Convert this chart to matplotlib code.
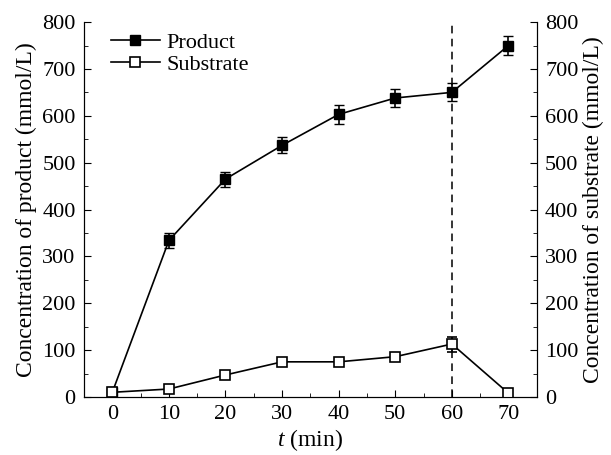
import numpy as np
import matplotlib.pyplot as plt

plt.rcParams['font.family'] = ['Liberation Serif', 'DejaVu Serif']
plt.rcParams['mathtext.fontset'] = 'custom'
plt.rcParams['mathtext.it'] = 'Liberation Serif:italic'
plt.rcParams['mathtext.rm'] = 'Liberation Serif'

# data
t = [0, 10, 20, 30, 40, 50, 60, 70]
product = [10, 334, 465, 537, 603, 638, 650, 750]
product_err = [4, 16, 16, 17, 20, 19, 19, 20]
substrate = [10, 17, 47, 75, 75, 86, 113, 8]
substrate_err = [3, 4, 6, 4, 4, 5, 16, 4]
switch_t = 60

fig = plt.figure(figsize=(6.11, 4.55), dpi=100)
ax = fig.add_axes([0.1375, 0.1275, 0.741, 0.824])
ax2 = ax.twinx()

eb1 = ax.errorbar(t, product, yerr=product_err, color='black', marker='s', ms=7.5,
                  mfc='black', mec='black', lw=1.2, capsize=3.5, elinewidth=1.2,
                  label='Product', zorder=3)
eb2 = ax.errorbar(t, substrate, yerr=substrate_err, color='black', marker='s', ms=7.5,
                  mfc='white', mec='black', mew=1.2, lw=1.2, capsize=3.5, elinewidth=1.2,
                  label='Substrate', zorder=3)

ax.axvline(switch_t, color='black', ls=(0, (5, 3.5)), lw=1.1)

ax.set_xlim(-5, 75)
ax.set_ylim(0, 800)
ax2.set_ylim(0, 800)
ax.set_xticks(range(0, 71, 10))
ax.set_xticks(range(-5, 76, 5), minor=True)
ax.set_yticks(range(0, 801, 100))
ax.set_yticks(range(0, 801, 50), minor=True)
ax2.set_yticks(range(0, 801, 100))
ax2.set_yticks(range(0, 801, 50), minor=True)

for a in (ax, ax2):
    a.spines['top'].set_visible(False)
    a.tick_params(which='both', direction='in', labelsize=16, top=False, pad=6)
    a.tick_params(which='major', length=5)
    a.tick_params(which='minor', length=3)

ax.set_xlabel('$t$ (min)', fontsize=17, labelpad=2)
ax.set_ylabel('Concentration of product (mmol/L)', fontsize=17, labelpad=4)
ax2.set_ylabel('Concentration of substrate (mmol/L)', fontsize=17, labelpad=3)

ax.legend(handles=[eb1[0], eb2[0]], labels=['Product', 'Substrate'],
          loc='upper left', bbox_to_anchor=(0.015, 1.025), frameon=False,
          fontsize=16, handlelength=2.2, handletextpad=0.3, labelspacing=0.05,
          borderaxespad=0.5)

fig.savefig('out.png', dpi=100)
